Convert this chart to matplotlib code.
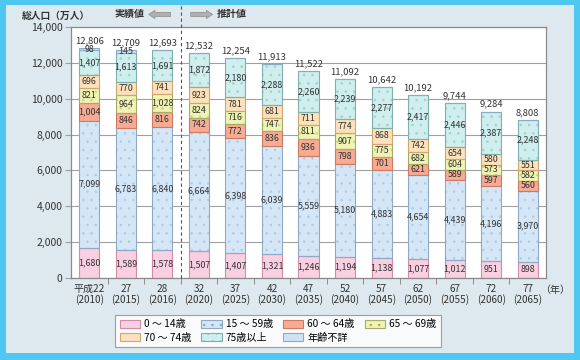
import numpy as np
import matplotlib
matplotlib.use("Agg")
import matplotlib.pyplot as plt
from matplotlib.patches import Rectangle, Patch

plt.rcParams['font.family'] = ['Noto Sans CJK JP', 'DejaVu Sans']
plt.rcParams['hatch.linewidth'] = 0.6

# -------------------- data (万人) --------------------
year_labels = ["平成22\n(2010)", "27\n(2015)", "28\n(2016)", "32\n(2020)", "37\n(2025)",
               "42\n(2030)", "47\n(2035)", "52\n(2040)", "57\n(2045)", "62\n(2050)",
               "67\n(2055)", "72\n(2060)", "77\n(2065)"]
n_actual = 3  # 実績値 columns, rest are 推計値

age_0_14 = [1680, 1589, 1578, 1507, 1407, 1321, 1246, 1194, 1138, 1077, 1012, 951, 898]
age_15_59 = [7099, 6783, 6840, 6664, 6398, 6039, 5559, 5180, 4883, 4654, 4439, 4196, 3970]
age_60_64 = [1004, 846, 816, 742, 772, 836, 936, 798, 701, 621, 589, 597, 560]
age_65_69 = [821, 964, 1028, 824, 716, 747, 811, 907, 775, 682, 604, 573, 582]
age_70_74 = [696, 770, 741, 923, 781, 681, 711, 774, 868, 742, 654, 580, 551]
age_75_up = [1407, 1613, 1691, 1872, 2180, 2288, 2260, 2239, 2277, 2417, 2446, 2387, 2248]
age_unknown = [98, 145, 0, 0, 0, 0, 0, 0, 0, 0, 0, 0, 0]
totals = [12806, 12709, 12693, 12532, 12254, 11913, 11522, 11092, 10642, 10192, 9744, 9284, 8808]

# (name, values, face, hatch dots, edge)
series = [
    ("0 ～ 14歳", age_0_14, "#f9d0e1", None, "#d48ba8"),
    ("15 ～ 59歳", age_15_59, "#d5e7f7", "#b0cbe8", "#8ea9c6"),
    ("60 ～ 64歳", age_60_64, "#f6ab92", None, "#cc7b62"),
    ("65 ～ 69歳", age_65_69, "#eff3b3", "#ccd484", "#a6ab6a"),
    ("70 ～ 74歳", age_70_74, "#fde1bb", None, "#d2a673"),
    ("75歳以上", age_75_up, "#cfeeed", "#9ad4ce", "#7fb0ad"),
    ("年齢不詳", age_unknown, "#d0e3f6", None, "#8ea9c6"),
]

fig = plt.figure(figsize=(5.8, 3.6), dpi=100)
fig.patch.set_facecolor("#4ec8f1")
fig.add_artist(Rectangle((6 / 580, 7 / 360), 568 / 580, 348 / 360, transform=fig.transFigure,
                         facecolor="#dde9ee", edgecolor="none", zorder=0))

ax = fig.add_axes([71 / 580, 82 / 360, 475 / 580, 251 / 360])
ax.set_facecolor("white")

x = np.arange(len(year_labels))
width = 0.55
bottom = np.zeros(len(x))
handles = []
for name, vals, face, dots, edge in series:
    vals = np.array(vals, dtype=float)
    if dots:
        ax.bar(x, vals, width, bottom=bottom, color=face, edgecolor=dots, hatch="..",
               linewidth=0, zorder=2)
    else:
        ax.bar(x, vals, width, bottom=bottom, color=face, linewidth=0, zorder=2)
    ax.bar(x, vals, width, bottom=bottom, fill=False, edgecolor=edge, linewidth=0.8, zorder=3)
    for xi, b, v in zip(x, bottom, vals):
        if v > 0:
            ax.text(xi, b + v / 2, f"{int(v):,}", ha="center", va="center",
                    fontsize=6.4, color="#333333", zorder=4)
    handles.append(Patch(facecolor=face, edgecolor=edge, hatch=".." if dots else None,
                         linewidth=0.8, label=name))
    bottom += vals

for xi, t in zip(x, totals):
    ax.annotate(f"{t:,}", (xi, t), xytext=(0, 2), textcoords="offset points",
                ha="center", va="bottom", fontsize=6.8, color="#333333")

ax.set_xlim(-0.5, len(x) - 0.5)
ax.set_ylim(0, 14000)
ax.set_yticks(np.arange(0, 14001, 2000))
ax.set_yticklabels([f"{v:,}" for v in range(0, 14001, 2000)], fontsize=7.5, color="#333333")
ax.yaxis.grid(True, color="#a0a0a0", linewidth=0.8, zorder=1)
ax.set_axisbelow(True)
ax.tick_params(axis="y", length=4, color="#a0a0a0", pad=2)

ax.set_xticks(x)
ax.set_xticklabels(year_labels, fontsize=7.2, color="#333333", linespacing=1.05)
ax.tick_params(axis="x", which="major", length=0, pad=4)
ax.set_xticks(np.arange(0.5, len(x) - 1, 1), minor=True)
ax.tick_params(axis="x", which="minor", length=4, color="#808080")

for s in ax.spines.values():
    s.set_color("#8a8a8a")
    s.set_linewidth(0.9)

# 実績値 / 推計値 divider
split = n_actual - 0.5
ax.plot([split, split], [0, 15250], ls=(0, (3, 2.5)), color="#555555", lw=0.8,
        clip_on=False, zorder=5)
arrow_y = 14700
arrow_style = "simple,head_width=0.6,head_length=0.45,tail_width=0.3"
ax.annotate("", xy=(split - 0.95, arrow_y), xytext=(split - 0.2, arrow_y),
            arrowprops=dict(arrowstyle=arrow_style, fc="#b0b0b0", ec="#8c8c8c", lw=0.5),
            annotation_clip=False)
ax.annotate("", xy=(split + 0.95, arrow_y), xytext=(split + 0.2, arrow_y),
            arrowprops=dict(arrowstyle=arrow_style, fc="#b0b0b0", ec="#8c8c8c", lw=0.5),
            annotation_clip=False)
ax.text(split - 1.0, arrow_y, "実績値", ha="right", va="center", fontsize=7.2,
        fontweight="bold", color="#333333")
ax.text(split + 1.0, arrow_y, "推計値", ha="left", va="center", fontsize=7.2,
        fontweight="bold", color="#333333")

fig.text(22 / 580, 1 - 16 / 360, "総人口（万人）", ha="left", va="center", fontsize=7,
         fontweight="bold", color="#333333")
fig.text(540 / 580, 1 - 290 / 360, "（年）", ha="left", va="center", fontsize=7.2, color="#333333")

order = [0, 4, 1, 5, 2, 6, 3]
leg = fig.legend([handles[i] for i in order], [handles[i].get_label() for i in order],
                 ncol=4, loc="center", bbox_to_anchor=(278 / 580, 1 - 331 / 360),
                 fontsize=7.3, frameon=True, fancybox=False, handlelength=2.0,
                 handleheight=0.9, columnspacing=1.0, handletextpad=0.4, labelspacing=0.35,
                 borderpad=0.4)
leg.get_frame().set_edgecolor("#8a8a8a")
leg.get_frame().set_linewidth(0.8)

fig.savefig("out.png", dpi=100, facecolor=fig.get_facecolor())
